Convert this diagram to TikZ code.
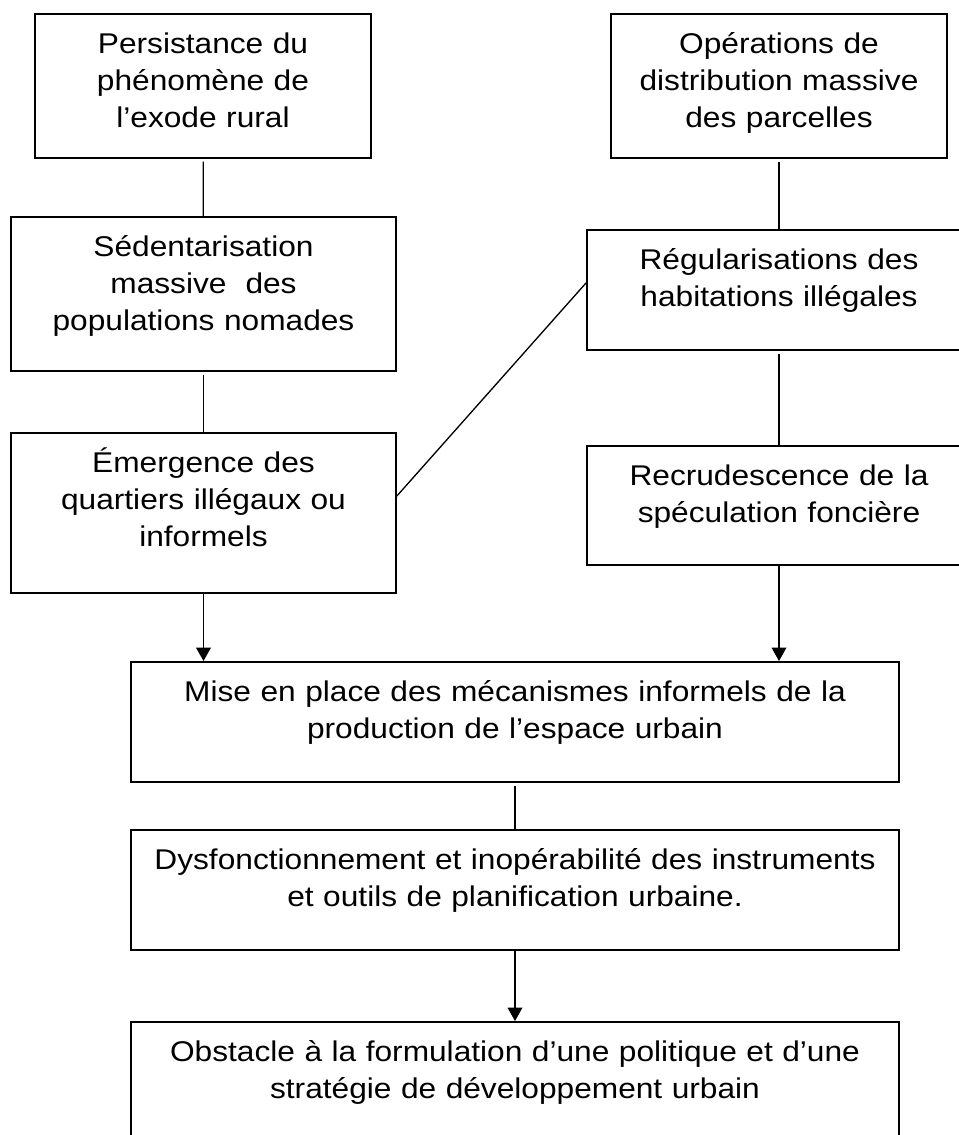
\documentclass[tikz,border=0pt]{standalone}
\usepackage{fontspec}
\setmainfont{Liberation Sans}[FakeStretch=1.11]
\usetikzlibrary{arrows.meta,calc}

\tikzset{
  box/.style={draw, line width=1.4pt, anchor=north, align=center,
    inner xsep=0pt, inner ysep=0pt, text height=30pt,
    font=\fontsize{21.4}{27.6}\selectfont},
  link/.style={line width=1pt, shorten <=2pt},
  arr/.style={line width=1pt, -{Triangle[width=11pt,length=10pt]}}
}

\begin{document}
\begin{tikzpicture}[x=0.75pt,y=-0.75pt]
  \useasboundingbox (0,0) rectangle (959,1135);
  \clip (0,0) rectangle (959,1135);

  % left column
  \node[box, text width=252pt, text depth=78pt] (b1) at (203,13)
    {Persistance du\\phénomène de\\l’exode rural};
  \node[box, text width=288.75pt, text depth=85.5pt] (b3) at (203.5,216)
    {Sédentarisation\\massive\ \ des\\populations nomades};
  \node[box, text width=288.75pt, text depth=90pt] (b5) at (203.5,432)
    {Émergence des\\quartiers illégaux ou\\informels};

  % right column
  \node[box, text width=252pt, text depth=78pt] (b2) at (779,13)
    {Opérations de\\distribution massive\\des parcelles};
  \node[box, text width=288pt, text depth=60pt] (b4) at (779,229)
    {Régularisations des\\habitations illégales};
  \node[box, text width=288pt, text depth=59.25pt] (b6) at (779,445)
    {Recrudescence de la\\spéculation foncière};

  % bottom row
  \node[box, text width=576pt, text depth=60pt] (b7) at (515,661)
    {Mise en place des mécanismes informels de la\\production de l’espace urbain};
  \node[box, text width=576pt, text depth=60pt] (b8) at (515,829)
    {Dysfonctionnement et inopérabilité des instruments\\et outils de planification urbaine.};
  \node[box, text width=576pt, text depth=60pt] (b9) at (515,1021)
    {Obstacle à la formulation d’une politique et d’une\\stratégie de développement urbain};

  % connectors
  \draw[link] (b1) -- (b3);
  \draw[link] (b3) -- (b5);
  \draw[link] (b2) -- (b4);
  \draw[link] (b4) -- (b6);
  \draw[line width=1pt] ($(b5.east)+(0,-17)$) -- ($(b4.west)+(0,-7)$);
  \draw[arr] (b5.south) -- (b5.south |- b7.north);
  \draw[arr] (b6.south) -- (b6.south |- b7.north);
  \draw[link] (b7) -- (b8);
  \draw[arr] (b8) -- (b9);
\end{tikzpicture}
\end{document}
